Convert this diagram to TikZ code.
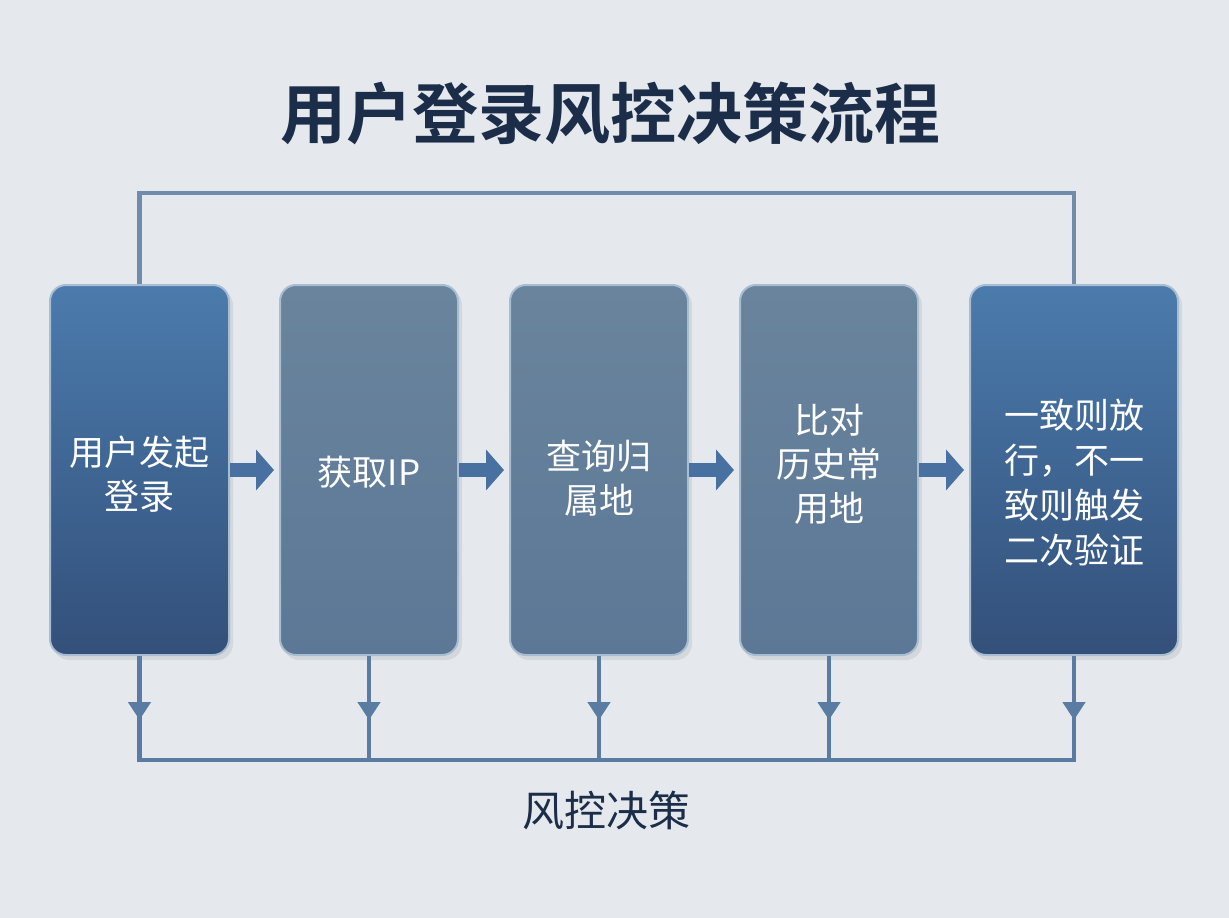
\documentclass[tikz,border=0pt]{standalone}
\usepackage{fontspec}
\setmainfont{Noto Sans CJK SC}[BoldFont={Noto Sans CJK SC Bold}]
\usetikzlibrary{arrows.meta,calc}
\definecolor{bgc}{HTML}{E5E9EE}
\definecolor{titlec}{HTML}{1B2D48}
\definecolor{darktop}{HTML}{4B7BAC}
\definecolor{darkbot}{HTML}{33507A}
\definecolor{graytop}{HTML}{6A849D}
\definecolor{graybot}{HTML}{5C7896}
\definecolor{rimc}{HTML}{A9BDD2}
\definecolor{linec}{HTML}{5A7CA3}
\definecolor{toplinec}{HTML}{6F8CAD}
\definecolor{arrc}{HTML}{4870A0}
\tikzset{
  boxbase/.style={rounded corners=16pt, draw=rimc, line width=2pt, minimum height=370pt},
  darkbox/.style={boxbase, top color=darktop, bottom color=darkbot},
  graybox/.style={boxbase, top color=graytop, bottom color=graybot},
  boxtext/.style={align=center, text=white, font=\fontsize{35}{44}\selectfont},
  flowarrow/.style={draw=arrc, line width=14pt, shorten >=5pt,
    -{Triangle[width=40pt,length=18pt]}},
  busline/.style={draw=linec, line width=4.5pt},
  downarrow/.style={draw=linec, line width=4.5pt, -{Triangle[width=22pt,length=18pt]}},
  topline/.style={draw=toplinec, line width=4.5pt},
}
\begin{document}
\begin{tikzpicture}[x=1pt,y=-1pt]
\fill[bgc] (0,0) rectangle (1229,918);
\useasboundingbox (0,0) rectangle (1229,918);
\node[font=\fontsize{66}{80}\selectfont\bfseries, text=titlec] (title) at (610,113) {用户登录风控决策流程};
% shadows
\foreach \xa/\xb in {50/229,280/458,510/688,740/918,970/1178}{
  \fill[black,opacity=0.07,rounded corners=16pt] (\xa+3,289) rectangle (\xb+4,660);
}
\node[darkbox, minimum width=179pt] (b1) at (139.5,470) {};
\node[graybox, minimum width=178pt] (b2) at (369,470) {};
\node[graybox, minimum width=178pt] (b3) at (599,470) {};
\node[graybox, minimum width=178pt] (b4) at (829,470) {};
\node[darkbox, minimum width=208pt] (b5) at (1074,470) {};
\node[boxtext] (t1) at ($(b1.center)+(0,4)$) {用户发起\\登录};
\node[boxtext] (t2) at ($(b2.center)+(0,2)$) {获取IP};
\node[boxtext] (t3) at ($(b3.center)+(0,8)$) {查询归\\属地};
\node[boxtext] (t4) at ($(b4.center)+(0,-6)$) {比对\\历史常\\用地};
\node[boxtext, font=\fontsize{35}{45}\selectfont] (t5) at ($(b5.center)+(0,13)$) {一致则放\\行，不一\\致则触发\\二次验证};
% horizontal arrows
\draw[flowarrow] (b1.east) -- (b2.west);
\draw[flowarrow] (b2.east) -- (b3.west);
\draw[flowarrow] (b3.east) -- (b4.west);
\draw[flowarrow] (b4.east) -- (b5.west);
% top feedback line
\coordinate (topy) at (0,193);
\draw[topline] (b1.north) -- (b1.north |- topy) -- (b5.north |- topy) -- (b5.north);
% bottom bus
\coordinate (bus) at (0,760);
\foreach \b in {b1,b2,b3,b4,b5}{
  \draw[busline] (\b.south) -- (\b.south |- bus);
  \draw[downarrow] (\b.south) -- ($(\b.south)+(0,64)$);
}
\draw[busline, line cap=rect] (b1.south |- bus) -- (b5.south |- bus);
\node[font=\fontsize{42}{50}\selectfont, text=titlec] (label) at (606,810) {风控决策};
\end{tikzpicture}
\end{document}
